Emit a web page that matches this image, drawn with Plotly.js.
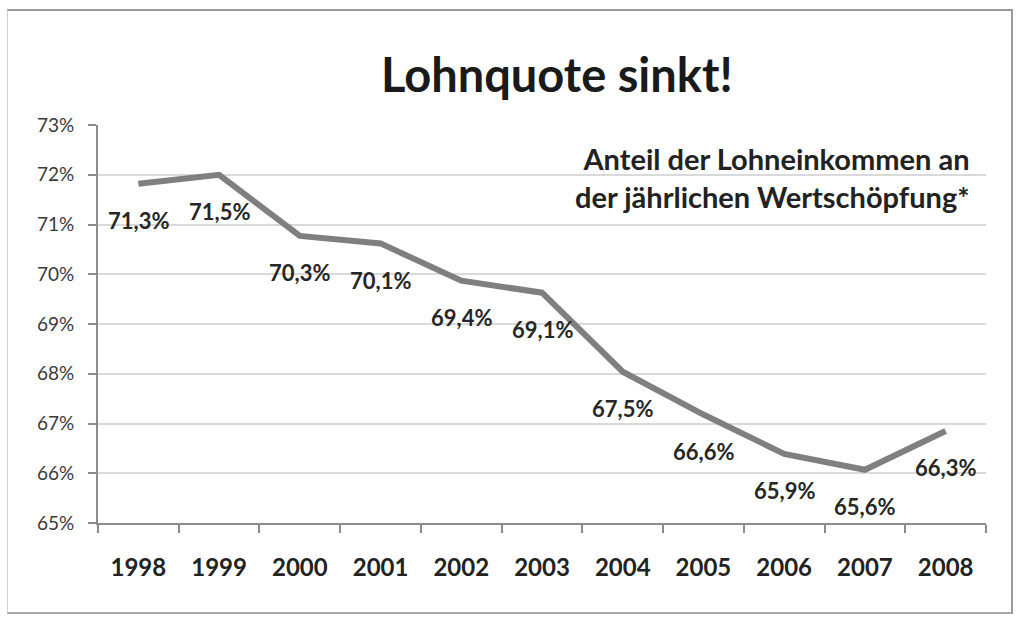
<!DOCTYPE html>
<html>
<head>
<meta charset="utf-8">
<script src="https://cdn.plot.ly/plotly-3.0.1.min.js"></script>
<style>
  html, body { margin: 0; padding: 0; background: #ffffff; }
  #wrap { position: relative; width: 1016px; height: 620px; overflow: hidden; background: #fff; }
  #chart { position: absolute; left: 0; top: 0; width: 1016px; height: 620px; }
  #frame { position: absolute; left: 7px; top: 9px; width: 1006px; height: 605px;
           border-top: 2px solid #9a9a9a; border-right: 2px solid #9a9a9a;
           border-bottom: 2px solid #a8a8a8; border-left: 1px solid #cfcfcf;
           box-sizing: border-box; pointer-events: none; }
</style>
</head>
<body>
<div id="wrap">
  <div id="chart"></div>
  <div id="frame"></div>
</div>
<script>
// Categories (years)
const years = ["1998", "1999", "2000", "2001", "2002", "2003", "2004", "2005", "2006", "2007", "2008"];
// Line positions as drawn in the picture (percent)
const lineValues = [71.82, 72.0, 70.77, 70.62, 69.87, 69.63, 68.04, 67.18, 66.39, 66.07, 66.85];
// Data label texts as printed in the picture
const labelTexts = ["71,3%", "71,5%", "70,3%", "70,1%", "69,4%", "69,1%", "67,5%", "66,6%", "65,9%", "65,6%", "66,3%"];
// Y axis ticks
const yTickVals = [65, 66, 67, 68, 69, 70, 71, 72, 73];
const yTickText = ["65%", "66%", "67%", "68%", "69%", "70%", "71%", "72%", "73%"];

const titleText = "Lohnquote sinkt!";
const subtitleText = "Anteil der Lohneinkommen an<br>der jährlichen Wertschöpfung*";

const FONT = "Lato, 'Open Sans', 'DejaVu Sans', sans-serif";

const trace = {
  type: "scatter",
  mode: "lines",
  x: years,
  y: lineValues,
  line: { color: "#7f7f7f", width: 6 },
  hoverinfo: "skip",
  showlegend: false
};

// category axis: annotation x given as the category index
const labelAnnotations = years.map((yr, i) => ({
  x: i,
  y: lineValues[i],
  xref: "x",
  yref: "y",
  text: "<b>" + labelTexts[i] + "</b>",
  showarrow: false,
  yshift: -37,
  font: { family: FONT, size: 22, color: "#262626" }
}));

const layout = {
  width: 1016,
  height: 620,
  paper_bgcolor: "rgba(0,0,0,0)",
  plot_bgcolor: "#ffffff",
  margin: { l: 98, r: 30, t: 125, b: 97 },
  title: {
    text: "<b>" + titleText + "</b>",
    xref: "container",
    yref: "container",
    x: 0.548,
    xanchor: "center",
    y: 0.878,
    yanchor: "middle",
    font: { family: FONT, size: 47, color: "#1a1a1a" }
  },
  xaxis: {
    type: "category",
    range: [-0.5, 10.5],
    tickson: "boundaries",
    ticks: "outside",
    ticklen: 8,
    tickwidth: 2,
    tickcolor: "#8c8c8c",
    showline: true,
    linecolor: "#8c8c8c",
    linewidth: 2,
    showgrid: false,
    zeroline: false,
    ticklabelstandoff: 22,
    tickfont: { family: FONT, size: 24, color: "#222222", weight: 700 }
  },
  yaxis: {
    range: [65, 73],
    tickvals: yTickVals,
    ticktext: yTickText,
    ticks: "outside",
    ticklen: 8,
    tickwidth: 2,
    tickcolor: "#8c8c8c",
    showline: true,
    linecolor: "#8c8c8c",
    linewidth: 2,
    showgrid: true,
    gridcolor: "#d9d9d9",
    gridwidth: 2,
    zeroline: false,
    ticklabelstandoff: 10,
    tickfont: { family: FONT, size: 19, color: "#3a3a3a" }
  },
  annotations: [
    {
      x: 0.984,
      y: 0.869,
      xref: "paper",
      yref: "paper",
      xanchor: "right",
      yanchor: "middle",
      align: "right",
      text: "<b>" + subtitleText + "</b>",
      showarrow: false,
      font: { family: FONT, size: 29, color: "#222222" }
    }
  ].concat(labelAnnotations),
  showlegend: false
};

Plotly.newPlot("chart", [trace], layout, { displayModeBar: false, staticPlot: true });
</script>
</body>
</html>
